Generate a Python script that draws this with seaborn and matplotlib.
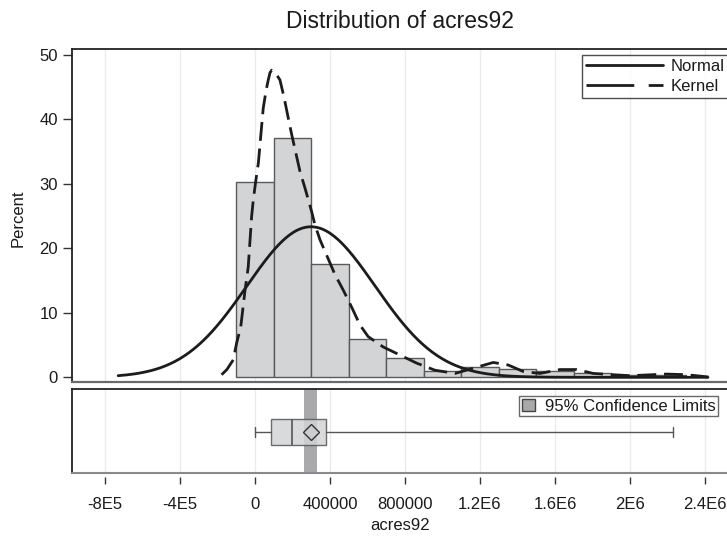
import numpy as np
import matplotlib
matplotlib.use("Agg")
import matplotlib.pyplot as plt
from matplotlib.lines import Line2D
from matplotlib.patches import Patch
import seaborn as sns

# ---------------- data ----------------
bin_edges = [-100000, 100000, 300000, 500000, 700000, 900000, 1100000,
             1300000, 1500000, 1700000, 1900000, 2100000, 2300000]
bin_centers = [0, 200000, 400000, 600000, 800000, 1000000, 1200000,
               1400000, 1600000, 1800000, 2000000, 2200000]
bar_pct = [30.3, 37.1, 17.6, 6.0, 3.0, 0.93, 1.55, 1.24, 0.93, 0.62, 0.31, 0.31]

# fitted normal (mean / std)
normal_mu = 298700
normal_sd = 342000
normal_range = (-730000, 2416000)

# kernel density curve (x in units, y in percent)
kernel_x = [-178000, -150000, -116000, -98000, -76000, -53000, -36000, -18000, -9000,
            5000, 18000, 36000, 44000, 60000, 71000, 80000, 89000, 100000, 115000,
            133000, 155000, 178000, 196000,
            240000, 267000, 302000, 320000, 347000, 427000, 471000, 520000, 560000,
            604000, 684000, 791000, 862000, 960000, 1067000, 1164000, 1271000,
            1351000, 1431000, 1520000, 1627000, 1716000, 1804000, 1911000,
            2000000, 2196000, 2302000, 2418000]
kernel_y = [0.4, 1.2, 2.7, 5.3, 7.8, 13.5, 17.1, 24.9, 27.5, 30.6, 33.2, 39.1,
            41.7, 44.6, 46.1, 47.2, 47.6, 47.4, 46.9, 46.1, 43.4, 40.1, 37.6,
            31.9, 29.3, 25.7, 23.6, 21.3,
            15.9, 13.5, 10.6, 8.1, 6.3, 4.7, 3.2, 2.2, 1.1, 0.6, 1.4, 2.3, 1.9, 0.9,
            0.6, 1.2, 1.2, 0.6, 0.4, 0.25, 0.5, 0.4, 0.05]

# box plot summary
box_min, box_q1, box_med, box_q3, box_max = 0, 87000, 199000, 377000, 2228000
box_mean = 298700
ci_low, ci_high = 261000, 332000

xticks = [-800000, -400000, 0, 400000, 800000, 1200000, 1600000, 2000000, 2400000]
xtick_labels = ["-8E5", "-4E5", "0", "400000", "800000", "1.2E6", "1.6E6", "2E6", "2.4E6"]
yticks = [0, 10, 20, 30, 40, 50]

# ---------------- styling ----------------
sns.set_theme(style="white")
plt.rcParams["font.family"] = ["Liberation Sans", "DejaVu Sans"]
plt.rcParams["text.color"] = "#1a1a1a"

W_PX, H_PX = 727, 536
fig = plt.figure(figsize=(W_PX / 100, H_PX / 100), dpi=100)
fig.patch.set_facecolor("white")

def frac_x(px):
    return px / W_PX

def frac_y(py):
    return 1 - py / H_PX

left_px, right_px = 72, 737
ax1 = fig.add_axes([frac_x(left_px), frac_y(382.3), (right_px - left_px) / W_PX, (382.3 - 49) / H_PX])
ax2 = fig.add_axes([frac_x(left_px), frac_y(473.3), (right_px - left_px) / W_PX, (473.3 - 389) / H_PX])

xlim = (-976000, 2571000)
bar_face = "#d3d4d6"
bar_edge = "#5a5a5a"
curve_col = "#1c1c1c"

# ---- histogram ----
sns.histplot(x=bin_centers, weights=bar_pct, bins=bin_edges, stat="count",
             color=bar_face, edgecolor=bar_edge, linewidth=1.0, alpha=1.0,
             ax=ax1, zorder=2)

# ---- normal curve ----
nx = np.linspace(normal_range[0], normal_range[1], 500)
binw = bin_edges[1] - bin_edges[0]
ny = 100 * binw / (normal_sd * np.sqrt(2 * np.pi)) * np.exp(-0.5 * ((nx - normal_mu) / normal_sd) ** 2)
sns.lineplot(x=nx, y=ny, ax=ax1, color=curve_col, linewidth=2.0, sort=False,
             estimator=None, zorder=4)

# ---- kernel curve ----
sns.lineplot(x=kernel_x, y=kernel_y, ax=ax1, color=curve_col, linewidth=2.0,
             sort=False, estimator=None, zorder=4)
ax1.lines[-1].set_linestyle((0, (6.8, 2.8)))
ax1.lines[-1].set_solid_capstyle("butt")
ax1.lines[-1].set_solid_joinstyle("round")
ax1.lines[-1].set_dash_joinstyle("round")

ax1.set_xlim(xlim)
ax1.set_ylim(-0.775, 50.88)
ax1.set_xticks(xticks)
ax1.set_yticks(yticks)
ax1.set_yticklabels([str(v) for v in yticks])
ax1.tick_params(axis="x", length=0, labelbottom=False)
ax1.tick_params(axis="y", length=6.5, width=1, color="#333333", direction="out",
                labelsize=12, pad=3.5, left=True, labelcolor="#1a1a1a")
ax1.grid(axis="x", color="#ebebeb", linewidth=1, zorder=0)
ax1.set_axisbelow(True)
ax1.set_xlabel("")
ax1.set_ylabel("")
for side in ["left", "top"]:
    ax1.spines[side].set_color("#222222")
    ax1.spines[side].set_linewidth(1.3)
ax1.spines["bottom"].set_color("#6a6a6a")
ax1.spines["bottom"].set_linewidth(1.6)
ax1.spines["right"].set_visible(False)

h_norm = Line2D([], [], color=curve_col, lw=2.0)
h_kern = Line2D([], [], color=curve_col, lw=2.0, linestyle=(0, (17.2, 5.2, 7.6, 10)))
ax_w = right_px - left_px
ax_h = 382.3 - 49
leg1 = ax1.legend([h_norm, h_kern], ["Normal", "Kernel"], loc="upper left",
                  bbox_to_anchor=((581.7 - left_px) / ax_w, 1 - (55 - 49) / ax_h),
                  borderaxespad=0, frameon=True, fancybox=False, fontsize=12,
                  handlelength=4.6, handletextpad=0.5, labelspacing=0.3,
                  borderpad=0.25)
leg1.get_frame().set_edgecolor("#222222")
leg1.get_frame().set_linewidth(1.0)

# ---- lower panel: box plot ----
ax2.set_xlim(xlim)
ax2.set_ylim(0, 1)
ax2.axvspan(ci_low, ci_high, color="#a9a9ab", zorder=1, lw=0)
stats = [dict(whislo=box_min, q1=box_q1, med=box_med, q3=box_q3, whishi=box_max,
              mean=box_mean, fliers=[])]
bp = ax2.bxp(stats, positions=[0.49], widths=0.3, vert=False, patch_artist=True,
             showmeans=True, showfliers=False, capwidths=0.13,
             boxprops=dict(facecolor=bar_face, edgecolor="#555555", linewidth=1.0, alpha=0.85),
             medianprops=dict(color="#555555", linewidth=1.2),
             whiskerprops=dict(color="#555555", linewidth=1.0),
             capprops=dict(color="#555555", linewidth=1.0),
             meanprops=dict(marker="D", markersize=8, markerfacecolor="none",
                            markeredgecolor="#333333", markeredgewidth=1.0))
for art in bp["boxes"] + bp["whiskers"] + bp["caps"] + bp["medians"] + bp["means"]:
    art.set_zorder(3)

ax2.set_xticks(xticks)
ax2.set_xticklabels(xtick_labels)
ax2.set_yticks([])
ax2.grid(axis="x", color="#ebebeb", linewidth=1, zorder=0)
ax2.set_axisbelow(True)
ax2.spines["bottom"].set_position(("outward", 3))
ax2.spines["bottom"].set_visible(False)
ax2.axhline(0, color="#8a8a8a", linewidth=1.5, clip_on=False, zorder=5)
ax2.tick_params(axis="x", length=5, width=1, color="#333333", direction="out",
                labelsize=12, pad=9, bottom=True, labelcolor="#1a1a1a")
for side in ["left", "top"]:
    ax2.spines[side].set_color("#222222")
    ax2.spines[side].set_linewidth(1.3)
ax2.spines["right"].set_visible(False)

h_ci = Patch(facecolor="#a9a9ab", edgecolor="#444444", linewidth=1.0)
ax2_h = 473.3 - 389
leg2 = ax2.legend([h_ci], ["95% Confidence Limits"], loc="upper left",
                  bbox_to_anchor=((519 - left_px) / ax_w, 1 - (396 - 389) / ax2_h),
                  borderaxespad=0, frameon=True, fancybox=False, fontsize=12,
                  handlelength=0.8, handleheight=0.8, handletextpad=0.6,
                  borderpad=0.15)
leg2.get_frame().set_edgecolor("#444444")
leg2.get_frame().set_linewidth(1.0)

# ---- texts ----
fig.text(frac_x(400), frac_y(21), "Distribution of acres92", ha="center", va="center",
         fontsize=16.5, color="#1a1a1a")
fig.text(frac_x(400), frac_y(525), "acres92", ha="center", va="center",
         fontsize=12, color="#1a1a1a")
fig.text(frac_x(18), frac_y(218), "Percent", ha="center", va="center",
         rotation=90, fontsize=12, color="#1a1a1a")

fig.savefig("out.png", dpi=100, facecolor="white")
